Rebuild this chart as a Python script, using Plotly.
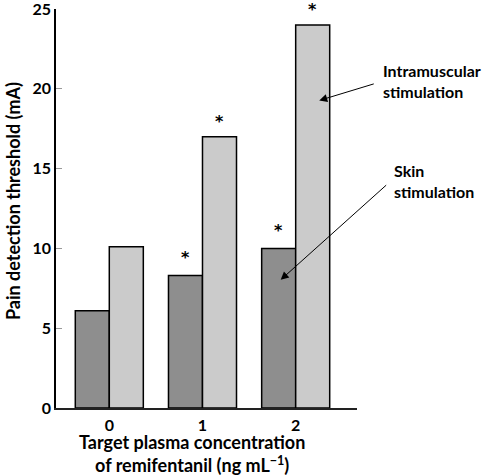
import plotly.graph_objects as go

# ---- data ----
concentrations = ["0", "1", "2"]
skin_threshold = [6.1, 8.3, 10.0]
intramuscular_threshold = [10.1, 17.0, 24.0]
skin_significant = [False, True, True]
intramuscular_significant = [False, True, True]
y_ticks = [0, 5, 10, 15, 20, 25]

FONT = "Lato"
DARK = "#8e8e8e"
LIGHT = "#cbcbcb"
BAR_HALF = 0.1825  # half of a group slot, in category units

W, H = 492, 476
L, R, T, B = 56, 135, 9, 68


def px_to_paper(px, py):
    return (px - L) / (W - L - R), 1 - (py - T) / (H - T - B)


fig = go.Figure()
fig.add_trace(go.Bar(x=concentrations, y=skin_threshold, name="Skin stimulation",
                     marker=dict(color=DARK, line=dict(color="black", width=1.5))))
fig.add_trace(go.Bar(x=concentrations, y=intramuscular_threshold, name="Intramuscular stimulation",
                     marker=dict(color=LIGHT, line=dict(color="black", width=1.5))))

annotations = []
for i, (v, s) in enumerate(zip(skin_threshold, skin_significant)):
    if s:
        annotations.append(dict(x=i - BAR_HALF, y=v, xref="x", yref="y", text="*", showarrow=False,
                                yshift=18, font=dict(family="DejaVu Sans", size=16, color="black")))
for i, (v, s) in enumerate(zip(intramuscular_threshold, intramuscular_significant)):
    if s:
        annotations.append(dict(x=i + BAR_HALF, y=v, xref="x", yref="y", text="*", showarrow=False,
                                yshift=15, font=dict(family="DejaVu Sans", size=16, color="black")))

# callout arrows
annotations.append(dict(x=2.253, y=19.27, xref="x", yref="y", ax=56, ay=-17, text="",
                        showarrow=True, arrowhead=2, arrowsize=1.6, arrowwidth=1, arrowcolor="black"))
annotations.append(dict(x=1.839, y=8.03, xref="x", yref="y", ax=107, ay=-96, text="",
                        showarrow=True, arrowhead=2, arrowsize=1.6, arrowwidth=1, arrowcolor="black"))

# text labels and axis titles positioned in pixels
bold = dict(family=FONT, color="black", weight="bold")
for txt, px, py, xa, size, ang in [
    ("Intramuscular<br>stimulation", 381, 81, "left", 16, 0),
    ("Skin<br>stimulation", 392, 181, "left", 16, 0),
    ("Target plasma concentration<br>of remifentanil (ng mL<sup>−1</sup>)", 192, 453, "center", 18, 0),
    ("Pain detection threshold (mA)", 13, 201, "center", 18, -90),
]:
    x, y = px_to_paper(px, py)
    annotations.append(dict(x=x, y=y, xref="paper", yref="paper", text=txt, showarrow=False,
                            xanchor=xa, yanchor="middle", align=xa,
                            textangle=ang, font=dict(size=size, **bold)))

fig.update_layout(
    width=W, height=H,
    margin=dict(l=L, r=R, t=T, b=B, autoexpand=False),
    paper_bgcolor="white", plot_bgcolor="white",
    barmode="group", bargap=0.27, bargroupgap=0,
    showlegend=False,
    font=dict(family=FONT, color="black", weight="bold"),
    annotations=annotations,
)
fig.update_xaxes(
    type="category", range=[-0.572, 2.658], automargin=False,
    showline=True, linecolor="#222", linewidth=1.5,
    ticks="", showgrid=False, zeroline=False, ticklabelstandoff=2,
    tickfont=dict(family=FONT, size=16, weight="bold"),
)
fig.update_yaxes(
    range=[0, 25], tickvals=y_ticks, automargin=False, ticklabeloverflow="allow",
    showline=True, linecolor="black", linewidth=1.5,
    ticks="inside", ticklen=6, tickcolor="#999", tickwidth=1,
    showgrid=False, zeroline=False,
    tickfont=dict(family=FONT, size=16, weight="bold"),
)

fig.write_html("out.html", config={"displayModeBar": False},
               post_script="document.body.style.margin='0px';")
